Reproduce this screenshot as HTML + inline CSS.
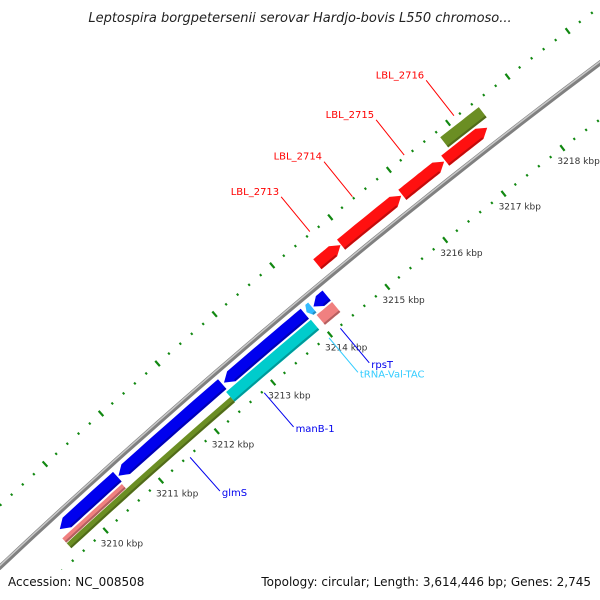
<!DOCTYPE html>
<html><head><meta charset="utf-8"><style>
html,body{margin:0;padding:0;background:#fff;overflow:hidden;}
svg{display:block;font-family:"DejaVu Sans","Liberation Sans",sans-serif;}
</style></head><body>
<svg id="map" width="600" height="600" viewBox="0 0 600 600">
<rect width="600" height="600" fill="#fff"/>
<text x="300" y="22" text-anchor="middle" font-size="13" font-style="italic" fill="#222">Leptospira borgpetersenii serovar Hardjo-bovis L550 chromoso...</text>
<g id="ticks"></g>
<g id="backbone"></g>
<g id="genes"></g>
<g id="labels"></g>
<rect x="0" y="570" width="600" height="30" fill="#fff"/>
<text x="8" y="586" font-size="12" fill="#111">Accession: NC_008508</text>
<text x="591" y="586" text-anchor="end" font-size="12" fill="#111">Topology: circular; Length: 3,614,446 bp; Genes: 2,745</text>
</svg>
<script>
const geneNames  = ["LBL_2713","LBL_2714","LBL_2715","red-4","LBL_2716","blue-1","blue-2","manB-1","rpsT","tRNA-Val-TAC","rpsT-rna","cyan-1","glmS","pink-1"];
const geneStart  = [3214.47,3214.88,3215.93,3216.66,3216.80,3209.56,3210.62,3212.50,3214.07,3213.95,3214.03,3212.44,3209.50,3209.50];
const geneEnd    = [3214.87,3215.91,3216.64,3217.37,3217.45,3210.60,3212.47,3213.92,3214.30,3214.05,3214.30,3213.93,3212.44,3210.58];
const geneStrand = [1,1,1,1,0,-1,-1,-1,-1,-1,0,0,0,0];
const geneRing   = ["red","red","red","red","green","A","A","A","A","A","B","B","Bin","Bout"];
const geneColor  = ["#ff1010","#ff1010","#ff1010","#ff1010","#6b8e23","#0000ee","#0000ee","#0000ee","#0000ee","#33bbff","#f08080","#00cccc","#6b8e23","#f08080"];
const labelText  = ["LBL_2713","LBL_2714","LBL_2715","LBL_2716","glmS","manB-1","tRNA-Val-TAC","rpsT"];
const labelKbp   = [3214.67,3215.40,3216.28,3217.12,3211.50,3212.82,3213.96,3214.16];
const labelSide  = [1,1,1,1,-1,-1,-1,-1];
const labelColor = ["#ff0000","#ff0000","#ff0000","#ff0000","#0000ee","#0000ee","#33ccff","#0000ee"];
const tickMajor  = [3210,3211,3212,3213,3214,3215,3216,3217,3218];

const NS="http://www.w3.org/2000/svg";
const CX=4855, CY=5738, R0=7093, K0=3210, A0=Math.atan2(532-5738,107-4855), DA=0.01057;
const ringOff={red:[17,13],green:[32,13],A:[-13,13],B:[-28,13],Bin:[-31.5,7],Bout:[-24.5,6]};
function ang(k){return A0+(k-K0)*DA;}
function pt(k,r){const a=ang(k);return [CX+r*Math.cos(a),CY+r*Math.sin(a)];}
function mk(tag,attrs,parent){const e=document.createElementNS(NS,tag);for(const k in attrs)e.setAttribute(k,attrs[k]);parent.appendChild(e);return e;}

const bb=document.getElementById('backbone');
let d="";for(let k=3200;k<=3222;k+=0.25){const p=pt(k,R0);d+=(d?"L":"M")+p[0].toFixed(1)+","+p[1].toFixed(1);}
let e=mk('path',{d:d,fill:'none',stroke:'#808080','stroke-width':5},bb);


e=mk('path',{d:d,fill:'none',stroke:'#c8c8c8','stroke-width':1.5,transform:'translate(-0.8,-0.8)'},bb);



const tg=document.getElementById('ticks');
[45,-45].forEach(function(off){
  for(let i=0;i<=60;i++){
    const k=3208.2+i*0.2;const r=R0+off;
    const major=Math.abs(k-Math.round(k))<0.01;
    const h=major?3.5:1.2;
    const a=pt(k,r-h),b=pt(k,r+h);
    const t=mk('line',{x1:a[0],y1:a[1],x2:b[0],y2:b[1],stroke:'#118811','stroke-width':major?2.2:2},tg);
    
    
  }
});
tickMajor.forEach(function(k){
  const p=pt(k,R0-45);
  const t=mk('text',{x:p[0]-5,y:p[1]+16,'font-size':9,fill:'#333'},tg);
  t.textContent=k+" kbp";
  
  
});

const gg=document.getElementById('genes');
for(let i=0;i<geneNames.length;i++){
  const ro=ringOff[geneRing[i]];const rc=R0+ro[0],w=ro[1];
  const s=geneStart[i],en=geneEnd[i],st=geneStrand[i];
  const head=Math.min(0.13,(en-s)*0.5);
  let s2=s,e2=en;if(st===1)e2=en-head;if(st===-1)s2=s+head;
  const pts=[];const n=12;
  for(let j=0;j<=n;j++)pts.push(pt(s2+(e2-s2)*j/n,rc+w/2));
  if(st===1)pts.push(pt(en,rc));
  for(let j=n;j>=0;j--)pts.push(pt(s2+(e2-s2)*j/n,rc-w/2));
  if(st===-1)pts.push(pt(s,rc));
  const poly=mk('polygon',{points:pts.map(p=>p[0].toFixed(1)+","+p[1].toFixed(1)).join(" "),fill:geneColor[i]},gg);
  
  
  const sp=[];for(let j=0;j<=n;j++)sp.push(pt(s2+(e2-s2)*j/n,rc-w/2+1.2));
  const sh=mk('polyline',{points:sp.map(p=>p[0].toFixed(1)+","+p[1].toFixed(1)).join(" "),fill:'none',stroke:'rgba(0,0,0,0.25)','stroke-width':2},gg);
  
  
}

const lg=document.getElementById('labels');
for(let i=0;i<labelText.length;i++){
  const side=labelSide[i];
  const a=pt(labelKbp[i],R0+side*47),b=pt(labelKbp[i],R0+side*92);
  const l=mk('line',{x1:a[0],y1:a[1],x2:b[0],y2:b[1],stroke:labelColor[i],'stroke-width':1},lg);
  
  
  const t=mk('text',{x:side>0?b[0]-2:b[0]+2,y:b[1]+(side>0?-2:5),'text-anchor':side>0?'end':'start','font-size':10,fill:labelColor[i]},lg);
  t.textContent=labelText[i];
  
  
}
</script>
</body></html>
